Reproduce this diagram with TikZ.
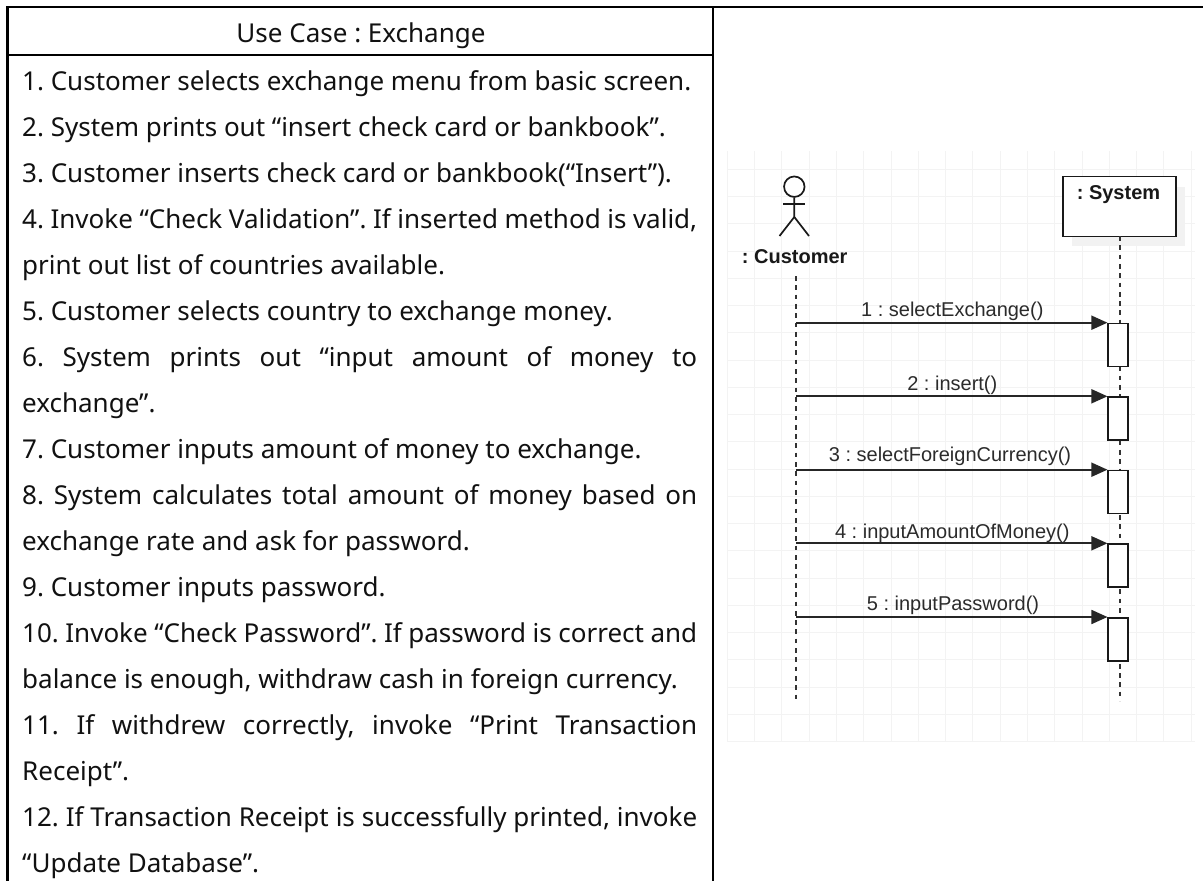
\documentclass[tikz,border=0pt]{standalone}
\usepackage{fontspec}
\setmainfont{Noto Sans}
\newfontfamily\umlfont{Liberation Sans}
\usetikzlibrary{arrows.meta}
\definecolor{gridc}{HTML}{F3F3F3}
\definecolor{shadowc}{HTML}{F2F2F2}
\definecolor{textc}{HTML}{111111}
\definecolor{msgc}{HTML}{2B2B2B}
\tikzset{
  x=1pt,y=-1pt,
  tableline/.style={draw=black,line width=2.2pt},
  row/.style={anchor=base west,inner sep=0pt,text=textc,font=\fontsize{26}{30}\selectfont},
  umlline/.style={draw=black!90,line width=1.7pt},
  life/.style={draw=black!80,line width=1.8pt,dash pattern=on 4.7pt off 4.6pt},
  msg/.style={draw=black!85,line width=1.7pt,-{Triangle[length=16pt,width=14pt]}},
  msglabel/.style={inner sep=0pt,anchor=base,text=msgc,font=\umlfont\fontsize{20}{24}\selectfont},
  heading/.style={inner sep=0pt,font=\umlfont\bfseries\fontsize{20}{24}\selectfont,text=black!90},
  activation/.style={umlline,fill=white,minimum width=20pt,minimum height=43pt,inner sep=0pt,anchor=north,rectangle},
}
\newcommand{\just}[1]{\hbox to 675pt{#1}}
\frenchspacing
\begin{document}
\begin{tikzpicture}
\useasboundingbox (0,0) rectangle (1203,881);
\fill[white] (0,0) rectangle (1203,881);
% table
\coordinate (tl) at (7.5,7);
\coordinate (tm) at (713,7);
\coordinate (tr) at (1203,7);
\coordinate (hl) at (7.5,55);
\coordinate (hm) at (713,55);
\coordinate (bl) at (7.5,881);
\coordinate (bm) at (713,881);
\draw[tableline] (bl) -- (tl) -- (tr);
\draw[tableline] (tm) -- (bm);
\draw[tableline] (hl) -- (hm);
\node[row,anchor=base] (title) at (361,42) {Use Case : Exchange};
\node[row] (l1) at (22,90) {1. Customer selects exchange menu from basic screen.};
\node[row] (l2) at (22,136) {2. System prints out “insert check card or bankbook”.};
\node[row] (l3) at (22,182) {3. Customer inserts check card or bankbook(“Insert”).};
\node[row] (l4) at (22,228) {\just{4. Invoke “Check Validation”. If inserted method is valid,}};
\node[row] (l5) at (22,274) {print out list of countries available.};
\node[row] (l6) at (22,320) {5. Customer selects country to exchange money.};
\node[row] (l7) at (22,366) {\just{6. System prints out “input amount of money to}};
\node[row] (l8) at (22,412) {exchange”.};
\node[row] (l9) at (22,458) {7. Customer inputs amount of money to exchange.};
\node[row] (l10) at (22,504) {\just{8. System calculates total amount of money based on}};
\node[row] (l11) at (22,550) {exchange rate and ask for password.};
\node[row] (l12) at (22,596) {9. Customer inputs password.};
\node[row] (l13) at (22,642) {\just{10. Invoke “Check Password”. If password is correct and}};
\node[row] (l14) at (22,688) {balance is enough, withdraw cash in foreign currency.};
\node[row] (l15) at (22,734) {\just{11. If withdrew correctly, invoke “Print Transaction}};
\node[row] (l16) at (22,780) {Receipt”.};
\node[row] (l17) at (22,826) {\just{12. If Transaction Receipt is successfully printed, invoke}};
\node[row] (l18) at (22,872) {“Update Database”.};
% grid
\begin{scope}[draw=gridc,line width=1pt]
\foreach \i in {0,...,17} \draw (727.3+27.29*\i,151) -- (727.3+27.29*\i,742);
\foreach \i in {0,...,21} \draw (727,169.3+27.25*\i) -- (1195,169.3+27.25*\i);
\end{scope}
% actor
\node[circle,umlline,minimum size=20.5pt,inner sep=0pt] (head) at (794.3,186.7) {};
\coordinate (hip) at (794.3,217);
\coordinate (armL) at (783,204);
\coordinate (armR) at (805,204);
\coordinate (legL) at (779.5,236);
\coordinate (legR) at (809,236);
\draw[umlline] (head.south) -- (hip) -- (legL);
\draw[umlline] (hip) -- (legR);
\draw[umlline] (armL) -- (armR);
\node[heading] (cust) at (794.7,257) {: Customer};
% system
\fill[shadowc] (1072,187) rectangle (1185,246);
\node[umlline,fill=white,minimum width=113pt,minimum height=60pt,inner sep=0pt,anchor=north west,rectangle] (sys) at (1062,175.7) {};
\node[heading] (systxt) at (1118.5,195) {: System};
% lifelines
\coordinate (c0) at (796.3,276);
\coordinate (c1) at (796.3,703);
\coordinate (s0) at (1120,236);
\coordinate (s1) at (1120,701);
\draw[life] (c0) -- (c1);
\draw[life] (s0) -- (s1);
% activations and messages
\foreach \n/\y/\d/\x/\t in {1/322.7/6/952.3/1 : selectExchange(),2/396.3/5.6/952.3/2 : insert(),3/469.7/8/950/3 : selectForeignCurrency(),4/543.3/5/952.3/4 : inputAmountOfMoney(),5/617/6.3/953/5 : inputPassword()}{
  \node[activation] (a\n) at (1118.3,\y) {};
  \coordinate (m\n) at (796.3,\y);
  \draw[msg] (m\n) -- (a\n.north west);
  \node[msglabel] (t\n) at (\x,\y-\d) {\t};
}
\end{tikzpicture}
\end{document}
